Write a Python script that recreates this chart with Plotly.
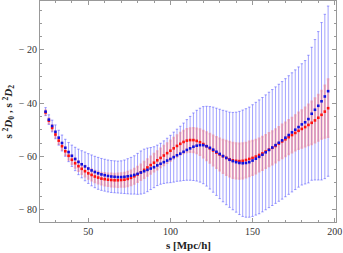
import plotly.graph_objects as go

s_vals = list(range(24, 198, 2))

d0_vals = [-43.2, -46.2, -48.6, -50.8, -53.0, -55.0, -56.8, -58.4, -59.8, -61.0,
           -62.1, -63.0, -63.8, -64.6, -65.3, -65.9, -66.4, -66.8, -67.1, -67.4,
           -67.6, -67.7, -67.8, -67.8, -67.7, -67.5, -67.3, -67.0, -66.6, -66.1,
           -65.6, -65.1, -64.6, -64.1, -63.4, -62.8, -62.2, -61.6, -61.0, -60.3,
           -59.6, -59.0, -58.3, -57.6, -57.0, -56.4, -56.0, -55.8, -55.8, -56.2,
           -56.8, -57.5, -58.3, -59.1, -59.9, -60.6, -61.3, -61.8, -62.2, -62.5,
           -62.6, -62.5, -62.2, -61.6, -60.9, -60.2, -59.4, -58.5, -57.6, -56.7,
           -55.8, -54.9, -54.0, -53.0, -52.0, -51.0, -50.0, -49.0, -48.0, -47.2,
           -46.0, -44.0, -42.5, -41.0, -39.3, -37.5, -35.5]

d0_err = [1.5, 1.8, 2.2, 2.6, 2.8, 3.0, 3.2, 3.6, 4.0, 4.4,
          4.8, 5.1, 5.4, 5.6, 5.8, 5.9, 6.0, 6.0, 6.0, 6.0,
          6.0, 6.0, 6.0, 6.1, 6.3, 6.6, 6.9, 7.2, 7.7, 8.1,
          8.3, 8.2, 7.9, 7.7, 7.6, 7.7, 8.0, 8.4, 8.9, 9.4,
          9.8, 10.3, 10.8, 11.4, 12.0, 12.7, 13.3, 13.9, 14.5, 15.0,
          15.5, 16.0, 16.4, 16.8, 17.2, 17.6, 17.9, 18.3, 18.8, 19.4,
          20.0, 20.4, 20.7, 21.0, 21.2, 21.4, 21.5, 21.6, 21.7, 21.8,
          21.9, 22.0, 22.1, 22.2, 22.3, 22.4, 22.5, 22.6, 22.8, 23.2,
          24.0, 25.0, 26.4, 27.9, 29.6, 30.9, 32.0]

d2_vals = [-43.5, -46.6, -49.3, -51.8, -54.1, -56.2, -58.1, -59.8, -61.3, -62.6,
           -63.7, -64.7, -65.6, -66.4, -67.0, -67.6, -68.0, -68.4, -68.6, -68.8,
           -68.9, -69.0, -69.0, -68.9, -68.8, -68.5, -68.1, -67.5, -66.8, -66.0,
           -65.1, -64.2, -63.3, -62.4, -61.5, -60.6, -59.7, -58.8, -57.9, -57.0,
           -56.1, -55.3, -54.6, -54.1, -53.9, -53.9, -54.2, -54.7, -55.4, -56.2,
           -57.0, -57.8, -58.6, -59.3, -60.0, -60.6, -61.1, -61.5, -61.7, -61.8,
           -61.7, -61.4, -61.0, -60.6, -60.1, -59.5, -58.9, -58.2, -57.5, -56.8,
           -56.1, -55.2, -54.4, -53.6, -52.8, -52.0, -51.2, -50.4, -49.7, -49.0,
           -48.2, -47.4, -46.5, -45.5, -44.4, -43.2, -41.9]

d2_err = [0.8, 0.9, 1.0, 1.1, 1.2, 1.3, 1.4, 1.5, 1.6, 1.7,
          1.8, 1.9, 2.0, 2.0, 2.1, 2.1, 2.2, 2.2, 2.3, 2.3,
          2.4, 2.4, 2.5, 2.5, 2.6, 2.7, 2.7, 2.8, 2.8, 2.9,
          3.0, 3.1, 3.2, 3.3, 3.4, 3.5, 3.6, 3.7, 3.8, 3.9,
          4.0, 4.1, 4.2, 4.3, 4.4, 4.5, 4.6, 4.8, 5.0, 5.2,
          5.4, 5.6, 5.8, 6.0, 6.2, 6.4, 6.5, 6.6, 6.6, 6.6,
          6.6, 6.5, 6.5, 6.4, 6.3, 6.2, 6.2, 6.2, 6.2, 6.2,
          6.2, 6.2, 6.3, 6.3, 6.4, 6.5, 6.6, 6.8, 7.0, 7.3,
          7.6, 8.0, 8.3, 8.6, 9.0, 9.8, 10.8]

x_ticks = [50, 100, 150, 200]
x_ticktext = ["50", "100", "150", "200"]
y_ticks = [-80, -60, -40, -20]
y_ticktext = ["\u2212 80", "\u2212 60", "\u2212 40", "\u2212 20"]
x_title = "<b>s [Mpc/h]</b>"
y_title = "<b>s <sup>2</sup><i>D</i><sub>0</sub> , s <sup>2</sup><i>D</i><sub>2</sub></b>"

fig = go.Figure()

fig.add_trace(go.Scatter(
    x=s_vals, y=d0_vals, mode="markers",
    marker=dict(symbol="square", size=2.5, color="rgba(0,0,0,0)"),
    error_y=dict(type="data", array=d0_err, visible=True,
                 color="rgba(70,70,255,0.5)", thickness=1, width=1.2),
    showlegend=False, hoverinfo="skip"))

fig.add_trace(go.Scatter(
    x=s_vals, y=d2_vals, mode="markers",
    marker=dict(symbol="square", size=2.6, color="#ff1010"),
    error_y=dict(type="data", array=d2_err, visible=True,
                 color="rgba(255,60,60,0.32)", thickness=2.2, width=1.3),
    showlegend=False))

fig.add_trace(go.Scatter(
    x=s_vals, y=d0_vals, mode="markers",
    marker=dict(symbol="square", size=2.6, color="#1010e0"),
    showlegend=False))

axis_common = dict(
    showgrid=False, zeroline=False, showline=True, linecolor="#999999",
    linewidth=1, mirror="allticks", ticks="inside", ticklen=4,
    tickcolor="#999999", tickwidth=0.8, automargin=False,
    tickfont=dict(family="Liberation Serif", size=10, color="#333333"),
)

fig.update_xaxes(
    range=[20.6, 200.8], tickvals=x_ticks, ticktext=x_ticktext,
    minor=dict(ticks="inside", dtick=10, tick0=0, ticklen=2, tickcolor="#999999"),
    **axis_common)

fig.update_yaxes(
    range=[-84.7, -1.6], tickvals=y_ticks, ticktext=y_ticktext,
    minor=dict(ticks="inside", dtick=5, tick0=0, ticklen=2, tickcolor="#999999"),
    **axis_common)

fig.add_annotation(text=x_title, xref="paper", yref="paper", x=0.5, y=-0.104,
                   xanchor="center", yanchor="middle", showarrow=False,
                   font=dict(family="Liberation Serif", size=11, color="#222222"))
fig.add_annotation(text=y_title, xref="paper", yref="paper", x=-0.108, y=0.5,
                   xanchor="center", yanchor="middle", showarrow=False, textangle=-90,
                   font=dict(family="Liberation Serif", size=11, color="#222222"))

fig.update_layout(
    width=343, height=253,
    margin=dict(l=40, r=7, t=1, b=31),
    paper_bgcolor="white", plot_bgcolor="white",
)

fig.write_html("out.html", config={"displayModeBar": False},
               post_script="document.body.style.margin='0';document.body.style.overflow='hidden';")
